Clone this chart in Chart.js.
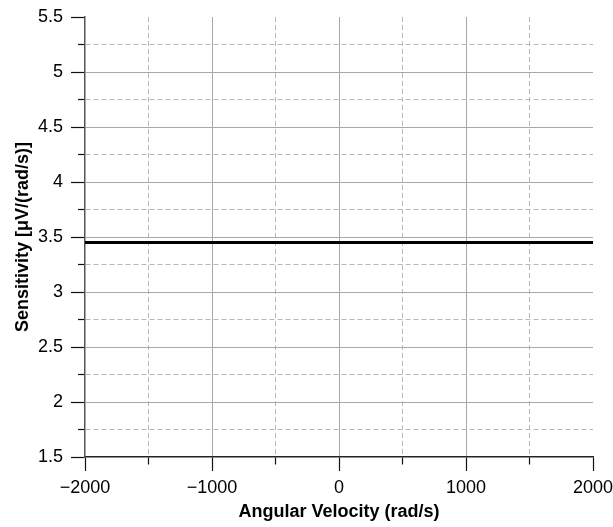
<!DOCTYPE html>
<html>
<head>
<meta charset="utf-8">
<script src="https://cdn.jsdelivr.net/npm/chart.js@4/dist/chart.umd.min.js"></script>
<style>
  html, body { margin: 0; padding: 0; background: #fff; }
  #wrap { width: 613px; height: 527px; }
</style>
</head>
<body>
<div id="wrap"><canvas id="sensChart"></canvas></div>
<script>
// angular velocity sweep and measured sensitivity
const angularVelocity = [-2000, -1000, 0, 1000, 2000];
const sensitivity = [3.45, 3.45, 3.45, 3.45, 3.45];

const xRange = [-2000, 2000];
const yRange = [1.5, 5.5];

const TICK_LEN = 14;

// major ticks get labels + solid grid, minor ones dashed grid + short tick
const isMajorX = v => Math.abs(v % 1000) < 1e-6;
const isMajorY = v => Math.abs((v * 2) - Math.round(v * 2)) < 1e-6;

function gridColor(ctx, isMajor, edge) {
  if (!ctx.tick) return 'rgba(0,0,0,0)';
  const v = ctx.tick.value;
  if (Math.abs(v - edge[0]) < 1e-6 || Math.abs(v - edge[1]) < 1e-6) return 'rgba(0,0,0,0)';
  return isMajor(v) ? '#a8a8a8' : '#b8b8b8';
}

const ctx = document.getElementById('sensChart');

new Chart(ctx, {
  type: 'line',
  data: {
    datasets: [{
      data: angularVelocity.map((x, i) => ({ x: x, y: sensitivity[i] })),
      borderColor: '#000',
      borderWidth: 3,
      pointRadius: 0,
      fill: false,
      tension: 0
    }]
  },
  options: {
    responsive: true,
    maintainAspectRatio: false,
    animation: false,
    layout: { padding: { top: 0, right: 0, bottom: 2, left: 8 } },
    plugins: {
      legend: { display: false },
      tooltip: { enabled: false }
    },
    scales: {
      x: {
        type: 'linear',
        min: xRange[0],
        max: xRange[1],
        afterFit: s => { s.height = 68; s.paddingRight = 20; },
        title: {
          display: true,
          text: 'Angular Velocity (rad/s)',
          font: { family: 'Liberation Sans', size: 18, weight: 'bold' },
          color: '#000',
          padding: { top: 2, bottom: 2 }
        },
        ticks: {
          stepSize: 500,
          autoSkip: false,
          maxRotation: 0,
          padding: 6,
          color: '#000',
          font: { family: 'Liberation Sans', size: 18 },
          callback: v => isMajorX(v) ? String(v).replace('-', '\u2212') : ''
        },
        grid: {
          color: c => gridColor(c, isMajorX, xRange),
          lineWidth: 1,
          tickLength: TICK_LEN,
          tickColor: '#111',
          tickWidth: 1.2,
          tickBorderDash: c => (c.tick && !isMajorX(c.tick.value)) ? [7, 7] : [],
          tickBorderDashOffset: 0
        },
        border: {
          display: true,
          color: '#222',
          width: 1.5,
          dash: c => (c.tick && !isMajorX(c.tick.value)) ? [5, 3] : []
        }
      },
      y: {
        type: 'linear',
        min: yRange[0],
        max: yRange[1],
        afterFit: s => { s.width = 77; s.paddingTop = 17; },
        title: {
          display: true,
          text: 'Sensitivity [\u03bcV/(rad/s)]',
          font: { family: 'Liberation Sans', size: 18, weight: 'bold' },
          color: '#000',
          padding: { top: 4, bottom: 4 }
        },
        ticks: {
          stepSize: 0.25,
          autoSkip: false,
          padding: 8,
          color: '#000',
          font: { family: 'Liberation Sans', size: 18 },
          callback: v => isMajorY(v) ? String(v) : ''
        },
        grid: {
          color: c => gridColor(c, isMajorY, yRange),
          lineWidth: 1,
          tickLength: TICK_LEN,
          tickColor: '#111',
          tickWidth: 1.2,
          tickBorderDash: c => (c.tick && !isMajorY(c.tick.value)) ? [7, 7] : [],
          tickBorderDashOffset: 7
        },
        border: {
          display: true,
          color: '#555',
          width: 1.5,
          dash: c => (c.tick && !isMajorY(c.tick.value)) ? [5, 3] : []
        }
      }
    }
  }
});
</script>
</body>
</html>
